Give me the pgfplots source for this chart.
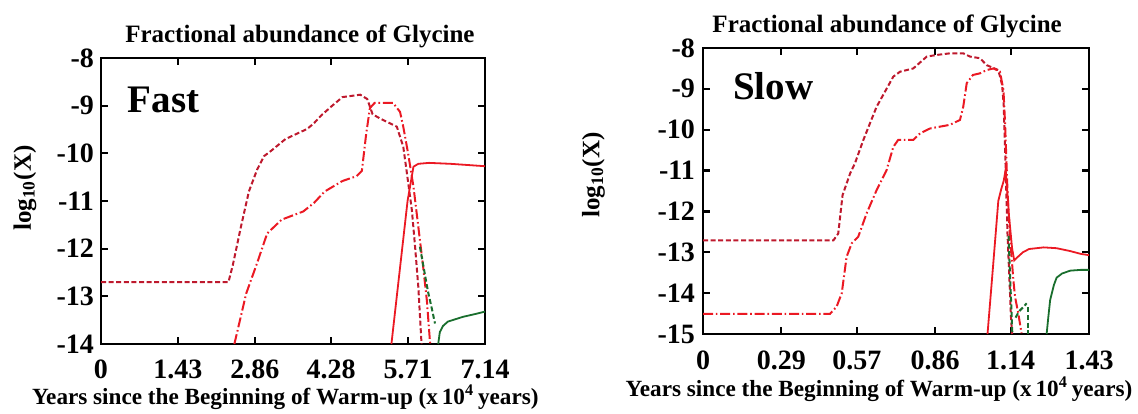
\documentclass[border=0pt]{standalone}
\usepackage{fontspec}
\setmainfont{Liberation Serif}
\usepackage{pgfplots}
\pgfplotsset{compat=1.18}
\definecolor{dred}{RGB}{190,25,45}
\definecolor{bred}{RGB}{235,25,35}
\definecolor{dgreen}{RGB}{25,110,45}
\newcommand{\lblfont}{\fontsize{12.5}{14}\selectfont\bfseries}
\newcommand{\xlfont}{\fontsize{11.6}{13}\selectfont\bfseries}
\newcommand{\tkfont}{\fontsize{14}{16}\selectfont\bfseries}
\pgfplotsset{
  myax/.style={
    scale only axis, clip=false,
    axis line style={line width=1.4pt, black},
    tick align=inside, major tick length=3.5pt,
    tick style={line width=1.1pt, black},
    every tick label/.append style={font=\tkfont},
    /pgf/number format/assume math mode=true,
  },
  sdash/.style={dred, line width=1pt, dash pattern=on 2.5pt off 1.3pt},
  ddot/.style={bred, line width=1pt, dash pattern=on 5pt off 1.4pt on 0.8pt off 1.4pt},
  gdash/.style={dgreen, line width=1pt, dash pattern=on 2.5pt off 1.3pt},
  rsol/.style={bred, line width=0.9pt},
  gsol/.style={dgreen, line width=0.9pt},
}
\begin{document}
\begin{tikzpicture}
\useasboundingbox (0,0) rectangle (569pt,206.5pt);
% ---------------- Fast ----------------
\begin{axis}[myax, at={(50.5pt,34.5pt)}, anchor=south west,
  width=192pt, height=143pt,
  xticklabel style={yshift=-4.5pt},
  yticklabel style={xshift=0pt},
  xmin=0, xmax=7.14, ymin=-14, ymax=-8,
  xtick={0,1.43,2.86,4.28,5.71,7.14},
  xticklabels={0,1.43,2.86,4.28,5.71,7.14},
  ytick={-14,-13,-12,-11,-10,-9,-8},
  yticklabels={-14,-13,-12,-11,-10,-9,-8}]
\addplot[sdash] coordinates {(0,-12.70)(2.37,-12.70)(2.45,-12.35)(2.60,-11.55)(2.75,-10.80)(2.90,-10.35)(3.03,-10.06)(3.16,-9.95)(3.43,-9.70)(3.83,-9.49)(3.95,-9.38)(4.09,-9.21)(4.30,-9.00)(4.49,-8.82)(4.82,-8.77)(4.95,-8.86)(5.05,-9.18)(5.19,-9.27)(5.50,-9.44)(5.62,-9.86)(5.68,-10.35)(5.78,-11.19)(5.84,-11.96)(5.90,-12.80)(5.96,-14.0)};
\addplot[ddot] coordinates {(2.48,-14.0)(2.70,-12.94)(2.90,-12.31)(3.09,-11.68)(3.36,-11.39)(3.76,-11.22)(3.96,-11.04)(4.16,-10.80)(4.49,-10.58)(4.75,-10.48)(4.85,-10.37)(4.93,-9.60)(5.00,-9.05)(5.09,-8.94)(5.43,-8.94)(5.56,-9.13)(5.62,-9.44)(5.71,-10.0)(5.81,-10.70)(5.90,-11.54)(5.99,-12.38)(6.06,-13.10)(6.12,-14.0)};
\addplot[gdash] coordinates {(5.93,-11.96)(6.00,-12.40)(6.08,-12.90)(6.15,-13.25)(6.21,-13.57)};
\addplot[rsol] coordinates {(5.40,-14.0)(5.55,-12.5)(5.70,-11.0)(5.81,-10.28)(5.90,-10.22)(6.10,-10.20)(6.50,-10.22)(7.14,-10.27)};
\addplot[gsol] coordinates {(6.27,-14.0)(6.30,-13.75)(6.36,-13.62)(6.45,-13.53)(6.73,-13.43)(7.00,-13.36)(7.14,-13.32)};
\node[font=\fontsize{19.5}{22}\selectfont\bfseries, anchor=west] at (axis cs:0.37,-8.88) {Fast};
\node[font=\lblfont] at ([yshift=11pt]rel axis cs:0.518,1) {Fractional abundance of Glycine};
\node[font=\xlfont] at ([yshift=-26.5pt]rel axis cs:0.48,0) {Years since the Beginning of Warm-up (x\,10\textsuperscript{4}\,years)};
\node[font=\lblfont, rotate=90] at ([xshift=-38pt]rel axis cs:0,0.545) {log\textsubscript{10}(X)};
\end{axis}
% ---------------- Slow ----------------
\begin{axis}[myax, at={(351.5pt,39.5pt)}, anchor=south west,
  width=193pt, height=143pt,
  xticklabel style={yshift=-5pt},
  yticklabel style={xshift=-0.5pt},
  xmin=0, xmax=1.43, ymin=-15, ymax=-8,
  xtick={0,0.29,0.57,0.86,1.14,1.43},
  xticklabels={0,0.29,0.57,0.86,1.14,1.43},
  ytick={-15,-14,-13,-12,-11,-10,-9,-8},
  yticklabels={-15,-14,-13,-12,-11,-10,-9,-8}]
\addplot[sdash] coordinates {(0,-12.71)(0.483,-12.71)(0.501,-12.54)(0.517,-11.60)(0.545,-11.07)(0.563,-10.82)(0.594,-10.25)(0.643,-9.44)(0.705,-8.70)(0.730,-8.58)(0.779,-8.50)(0.829,-8.21)(0.866,-8.17)(0.915,-8.13)(0.964,-8.13)(0.989,-8.21)(1.026,-8.25)(1.051,-8.42)(1.094,-8.54)(1.108,-8.9)(1.114,-9.4)(1.121,-10.92)(1.128,-12.55)(1.136,-13.8)(1.141,-14.6)(1.145,-15.0)};
\addplot[ddot] coordinates {(0,-14.51)(0.470,-14.51)(0.495,-14.33)(0.514,-14.0)(0.532,-13.11)(0.551,-12.78)(0.575,-12.62)(0.606,-12.05)(0.643,-11.48)(0.680,-10.99)(0.705,-10.42)(0.723,-10.25)(0.779,-10.25)(0.804,-10.09)(0.841,-9.97)(0.915,-9.88)(0.952,-9.76)(0.964,-9.44)(0.977,-8.86)(1.000,-8.66)(1.026,-8.62)(1.051,-8.54)(1.076,-8.50)(1.100,-8.58)(1.113,-9.03)(1.119,-9.84)(1.128,-11.5)(1.137,-12.6)(1.143,-13.11)(1.150,-13.7)(1.156,-14.09)(1.168,-14.5)(1.180,-14.98)};
\addplot[gdash] coordinates {(1.132,-12.6)(1.137,-13.5)(1.142,-14.3)(1.146,-15.0)};
\addplot[gdash] coordinates {(1.158,-14.6)(1.170,-14.45)(1.185,-14.35)(1.199,-14.25)};
\addplot[gdash] coordinates {(1.205,-14.35)(1.205,-15.0)};
\addplot[rsol] coordinates {(1.054,-15.0)(1.075,-13.3)(1.094,-11.74)(1.105,-11.45)(1.114,-11.25)(1.121,-10.98)(1.127,-11.5)(1.134,-12.14)(1.145,-12.9)(1.153,-13.2)(1.165,-13.12)(1.185,-13.0)(1.208,-12.92)(1.262,-12.88)(1.310,-12.90)(1.360,-12.97)(1.400,-13.04)(1.430,-13.07)};
\addplot[gsol] coordinates {(1.273,-15.0)(1.279,-14.6)(1.286,-14.17)(1.300,-13.80)(1.310,-13.62)(1.330,-13.52)(1.360,-13.45)(1.400,-13.43)(1.430,-13.43)};
\node[font=\fontsize{19.5}{22}\selectfont\bfseries, anchor=west] at (axis cs:0.085,-8.93) {Slow};
\node[font=\lblfont] at ([yshift=11pt]rel axis cs:0.477,1) {Fractional abundance of Glycine};
\node[font=\xlfont] at ([yshift=-27.5pt]rel axis cs:0.456,0) {Years since the Beginning of Warm-up (x\,10\textsuperscript{4}\,years)};
\node[font=\lblfont, rotate=90] at ([xshift=-54.75pt]rel axis cs:0,0.556) {log\textsubscript{10}(X)};
\end{axis}
\end{tikzpicture}
\end{document}
